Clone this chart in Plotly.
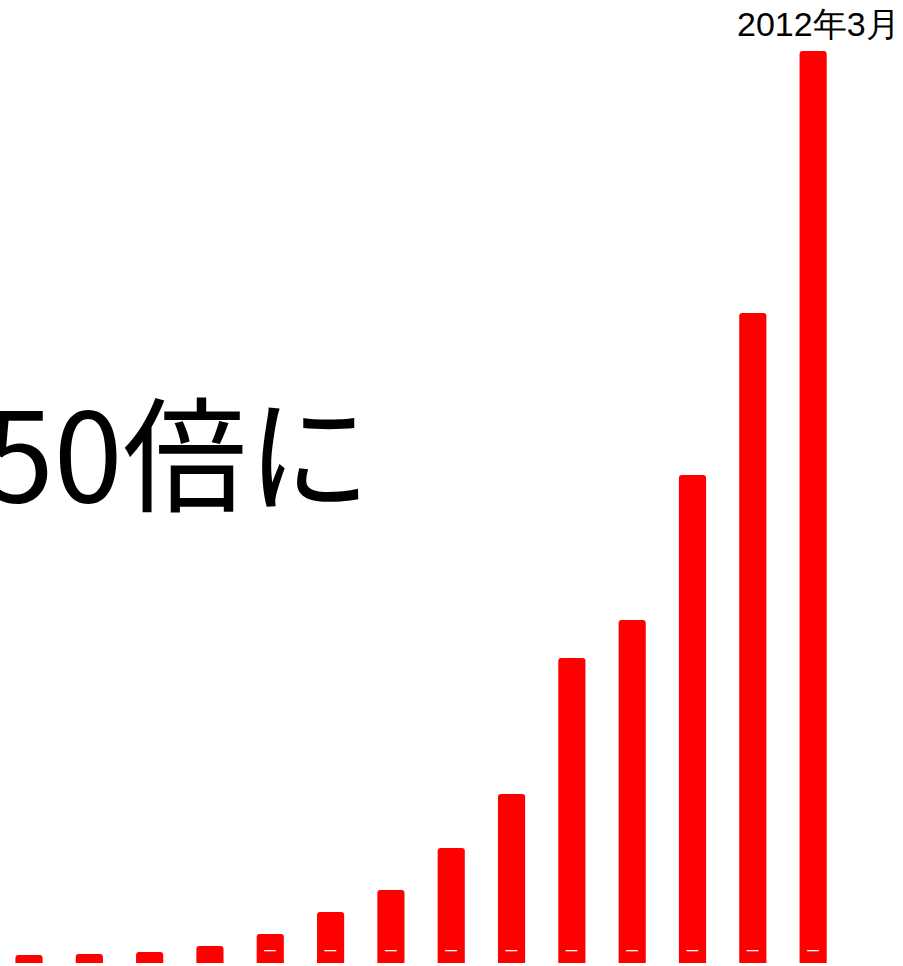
import plotly.graph_objects as go

# bar heights (relative units)
periods = list(range(14))
values = [8, 9, 11, 17, 29, 51, 73, 115, 169, 305, 343, 488, 650, 912]
marks = ["", "", "", ""] + ["–"] * 10
last_label = "2012年3月"
headline = "50倍に"

fig = go.Figure()
fig.add_trace(go.Bar(x=periods, y=values, width=0.45,
                     marker=dict(color="#ff0000", line=dict(width=0)),
                     text=marks, textposition="inside", insidetextanchor="start",
                     textangle=0,
                     textfont=dict(color="white", size=21, family="Liberation Sans"),
                     hoverinfo="skip"))

fig.add_annotation(x=periods[-1], y=values[-1], text=last_label, showarrow=False,
                   yanchor="bottom", yshift=6, xshift=5,
                   font=dict(family="Liberation Sans, Arial", size=34, color="black"))

fig.add_annotation(x=373 / 903, y=1 - 448 / 963, xref="paper", yref="paper",
                   text=headline, showarrow=False, xanchor="right", yanchor="middle",
                   font=dict(family="Noto Sans CJK JP", size=124, color="black"))

fig.update_layout(width=903, height=966,
                  margin=dict(l=0, r=0, t=0, b=3),
                  plot_bgcolor="white", paper_bgcolor="white",
                  showlegend=False, barcornerradius=3,
                  xaxis=dict(visible=False, range=[-0.481, 14.49]),
                  yaxis=dict(visible=False, range=[0, 963]))

fig.write_html("out.html", config={"displayModeBar": False},
               post_script="document.body.style.margin='0';")
